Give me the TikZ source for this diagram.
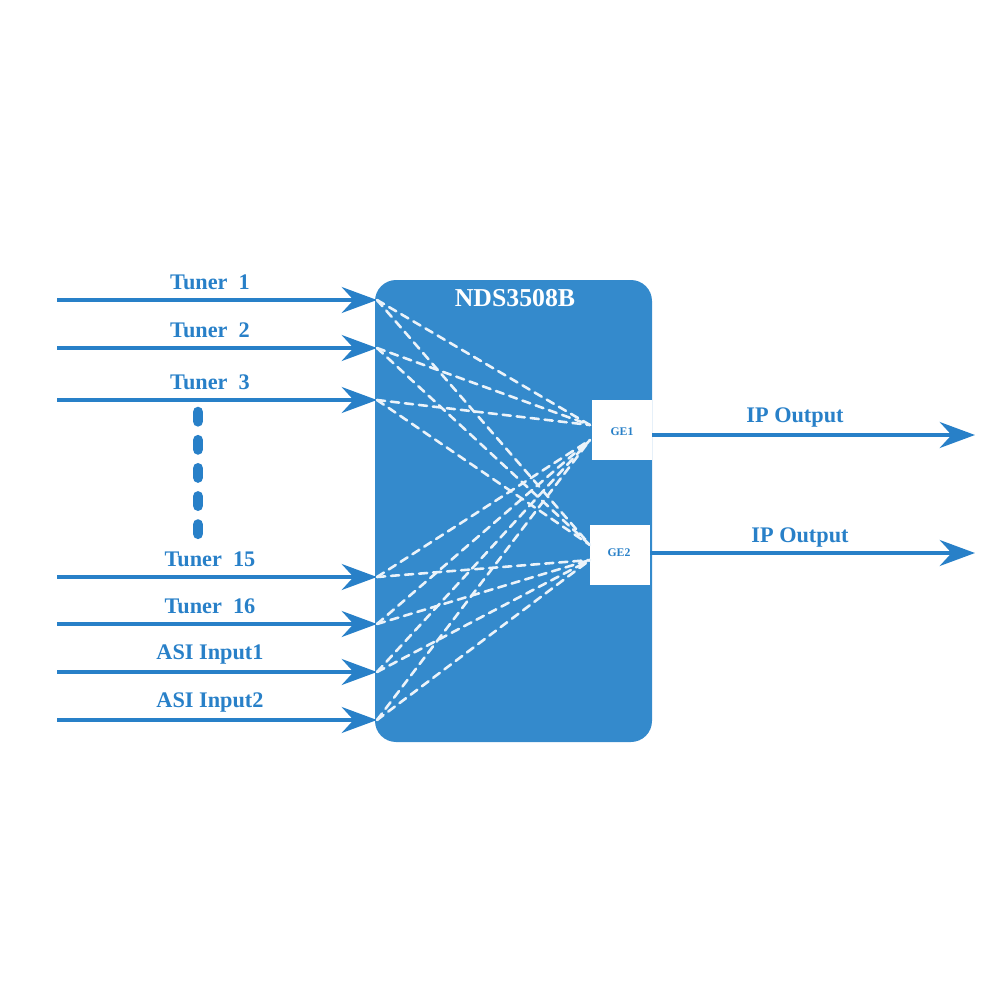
\documentclass[tikz,border=0pt]{standalone}
\usepackage{fontspec}
\setmainfont{Liberation Serif}
\usetikzlibrary{arrows.meta}
\definecolor{boxblue}{RGB}{52,138,204}
\definecolor{lineblue}{RGB}{40,128,200}
\tikzset{
  feed/.style={draw=lineblue, line width=4pt, -{Stealth[length=30pt, width=22pt, inset=10pt]}},
  lbl/.style={text=lineblue, font=\fontsize{19}{22}\selectfont\bfseries, inner sep=0pt},
  link/.style={draw=white!90!boxblue, line width=2.2pt, dash pattern=on 7pt off 5pt, line cap=round},
  port/.style={fill=white, draw=none, text=lineblue, font=\fontsize{10}{12}\selectfont\bfseries}
}
\begin{document}
\begin{tikzpicture}[x=0.03cm, y=-0.03cm]
  \useasboundingbox (0,0) rectangle (1000,1000);
  % Main box
  \fill[boxblue, rounded corners=18pt] (375,280) rectangle (652,742);
  \node[text=white, font=\fontsize{22}{26}\selectfont\bfseries] (title) at (515,298) {NDS3508B};
  \fill[white] (592,400) rectangle (652,460);
  \fill[white] (590,525) rectangle (650,585);
  \node[port] (ge1) at (622,432) {GE1};
  \node[port] (ge2) at (619,553) {GE2};
  \coordinate (g1a) at (590,425);
  \coordinate (g1b) at (590,440);
  \coordinate (g2a) at (590,545);
  \coordinate (g2b) at (590,560);
  % Inputs
  \foreach \n/\y/\t in {a/300/Tuner\ \ 1, b/348/Tuner\ \ 2, c/400/Tuner\ \ 3, d/577/Tuner\ \ 15, e/624/Tuner\ \ 16, f/672/ASI Input1, g/720/ASI Input2} {
    \coordinate (s\n) at (57,\y);
    \coordinate (i\n) at (377,\y);
    \draw[feed] (s\n) -- (i\n);
    \node[lbl] (l\n) at (210,\y-18) {\t};
  }
  % Internal links
  \foreach \n in {a,b,c} {
    \draw[link] (i\n) -- (g1a);
    \draw[link] (i\n) -- (g2a);
  }
  \foreach \n in {d,e,f,g} {
    \draw[link] (i\n) -- (g1b);
    \draw[link] (i\n) -- (g2b);
  }
  % Dots
  \draw[lineblue, line width=9pt, line cap=round, dash pattern=on 8pt off 16pt] (198,412) -- (198,540);
  % Outputs
  \coordinate (o1) at (652,435);
  \coordinate (o2) at (650,553);
  \coordinate (e1) at (975,435);
  \coordinate (e2) at (975,553);
  \draw[feed] (o1) -- (e1);
  \draw[feed] (o2) -- (e2);
  \node[lbl] (out1) at (795,417) {IP Output};
  \node[lbl] (out2) at (800,537) {IP Output};
\end{tikzpicture}
\end{document}
